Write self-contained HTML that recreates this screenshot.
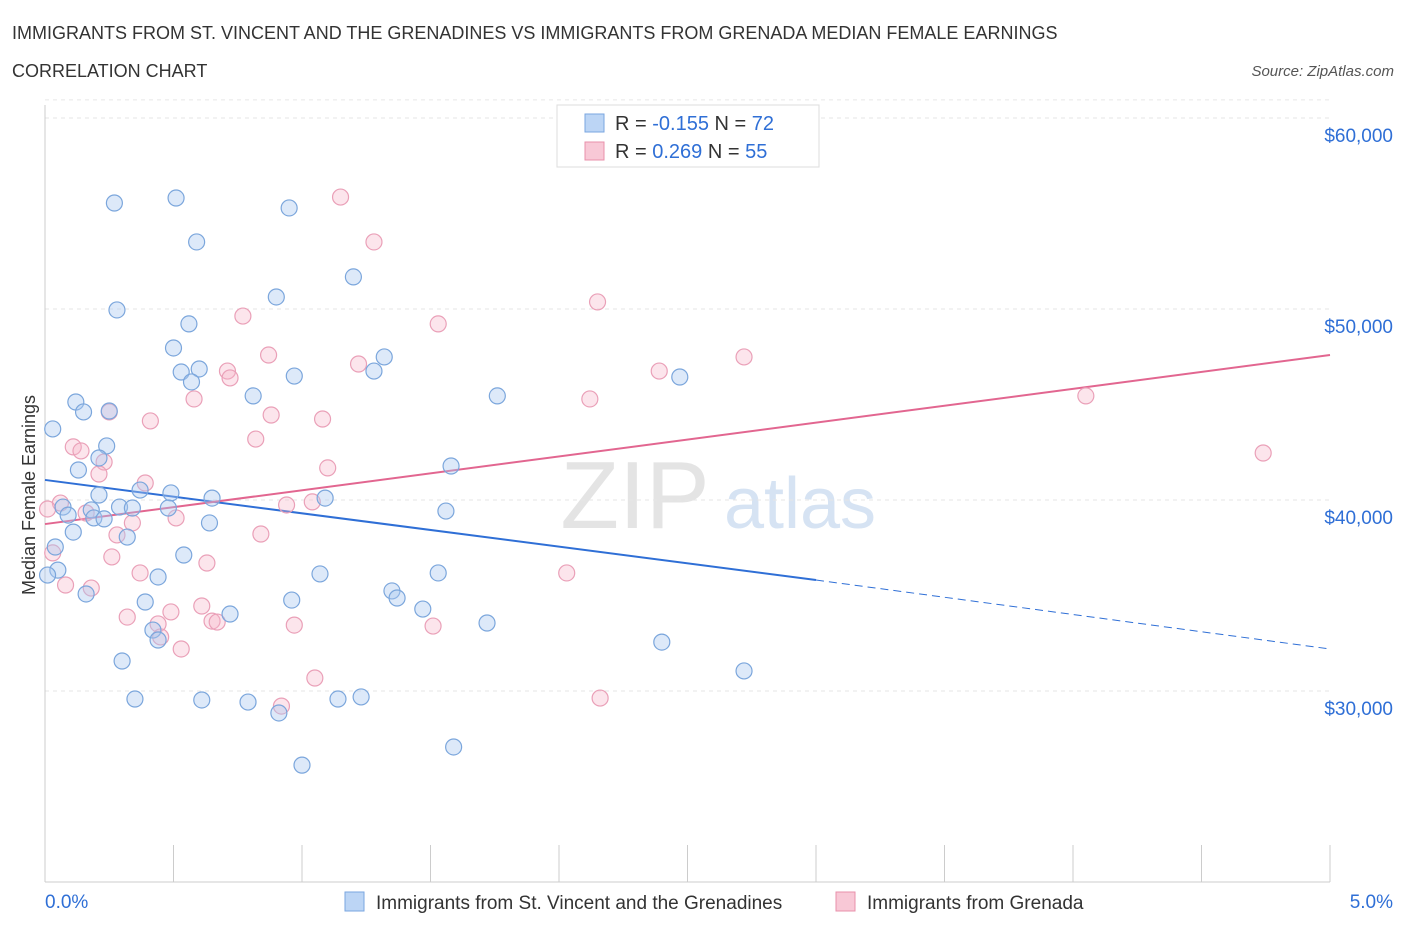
<!DOCTYPE html>
<html><head><meta charset="utf-8"><style>
body{margin:0;background:#fff;font-family:"Liberation Sans",sans-serif;}
svg text{font-family:"Liberation Sans",sans-serif;}
</style></head><body>
<svg id="chart" width="1406" height="930" xmlns="http://www.w3.org/2000/svg">
<text x="12" y="39" font-size="18" fill="#333">IMMIGRANTS FROM ST. VINCENT AND THE GRENADINES VS IMMIGRANTS FROM GRENADA MEDIAN FEMALE EARNINGS</text>
<text x="12" y="77" font-size="18" fill="#333">CORRELATION CHART</text>
<text x="1394" y="76" font-size="15" fill="#555" font-style="italic" text-anchor="end">Source: ZipAtlas.com</text>
<text x="635" y="528" font-size="96" fill="#e4e4e4" font-family="Liberation Serif" text-anchor="middle">ZIP</text>
<text x="800" y="528" font-size="72" fill="#d6e3f3" text-anchor="middle">atlas</text>
<g id="grid"></g>
<g id="axes"></g>
<text x="35" y="495" font-size="18" fill="#333" text-anchor="middle" transform="rotate(-90 35 495)">Median Female Earnings</text>
<g id="lines"></g>
<g id="points"></g>
<g>
<rect x="557" y="105" width="262" height="62" fill="#fff" stroke="#ddd"/>
<rect x="585" y="114" width="19" height="18" fill="#bcd5f5" stroke="#7aa6e0"/>
<text x="615" y="130" font-size="20" fill="#333">R = <tspan fill="#2f6fd6">-0.155</tspan>   N = <tspan fill="#2f6fd6">72</tspan></text>
<rect x="585" y="142" width="19" height="18" fill="#f8c8d6" stroke="#e890ab"/>
<text x="615" y="158" font-size="20" fill="#333">R =  <tspan fill="#2f6fd6">0.269</tspan>   N = <tspan fill="#2f6fd6">55</tspan></text>
</g>
<g>
<rect x="345" y="892" width="19" height="19" fill="#bcd5f5" stroke="#7aa6e0"/>
<text x="376" y="909" font-size="19" fill="#333">Immigrants from St. Vincent and the Grenadines</text>
<rect x="836" y="892" width="19" height="19" fill="#f8c8d6" stroke="#e890ab"/>
<text x="867" y="909" font-size="19" fill="#333">Immigrants from Grenada</text>
</g>
</svg>
<script>
const yTicks=[30000,40000,50000,60000];
const yTickLabels=["$30,000","$40,000","$50,000","$60,000"];
const xTickLabels=["0.0%","5.0%"];
const blueX=[0.27,0.51,0.95,0.59,0.28,1.20,0.90,0.56,0.50,1.32,0.53,0.60,0.57,0.97,1.28,2.47,0.81,1.76,0.12,0.15,0.25,0.03,0.24,0.21,0.13,1.58,0.37,0.49,0.21,0.65,1.09,0.07,0.18,0.29,0.34,0.48,0.09,0.19,0.23,1.56,0.64,0.11,0.32,0.04,0.54,0.05,0.01,1.07,1.53,0.44,0.16,1.35,1.37,0.96,0.39,1.47,0.72,1.72,0.42,0.44,2.40,0.30,2.72,0.35,0.61,0.79,1.14,1.23,0.91,1.59,1.00];
const blueY=[55550,55810,55290,53510,49950,51680,50630,49220,47960,47490,46700,46860,46180,46490,46750,46440,45450,45450,45130,44610,44660,43720,42830,42200,41570,41780,40520,40370,40260,40100,40100,39630,39480,39630,39580,39580,39210,39060,39010,39420,38800,38320,38060,37540,37120,36330,36070,36130,36180,35970,35080,35240,34870,34760,34660,34290,34030,33560,33190,32670,32560,31570,31050,29580,29530,29420,29580,29690,28850,27070,26120];
const pinkX=[1.15,1.28,2.15,0.77,1.53,0.87,2.72,1.22,0.71,0.72,2.39,0.58,2.12,4.05,0.25,0.88,0.41,1.08,0.82,0.11,0.14,0.23,0.21,1.10,4.74,0.39,0.06,0.01,0.16,0.51,0.34,0.94,1.04,0.84,0.28,0.03,0.26,0.63,2.03,0.37,0.08,0.18,0.61,0.32,0.65,0.49,0.67,0.44,0.97,1.51,0.45,0.53,1.05,2.16,0.92];
const pinkY=[55860,53510,50370,49630,49220,47590,47490,47120,46750,46390,46750,45290,45290,45450,44610,44450,44140,44240,43190,42780,42570,41990,41360,41680,42460,40890,39840,39530,39320,39060,38800,39740,39900,38220,38170,37230,37020,36700,36180,36180,35550,35390,34450,33870,33660,34140,33610,33510,33450,33400,32830,32200,30680,29630,29210];
const blueTrend=[41050,35810,32200];
const pinkTrend=[38740,47590];
const NS="http://www.w3.org/2000/svg";
function X(p){return 45+p*257;}
function Y(v){return 500-(v-40000)*0.0191;}
function mk(tag,attrs,parent){const e=document.createElementNS(NS,tag);for(const k in attrs)e.setAttribute(k,attrs[k]);parent.appendChild(e);return e;}
const grid=document.getElementById('grid'),axes=document.getElementById('axes'),lines=document.getElementById('lines'),pts=document.getElementById('points');
let e=mk('line',{x1:45,y1:Y(61000)+1,x2:1330,y2:Y(61000)+1,stroke:'#e6e6e6','stroke-dasharray':'4,4'},grid);
yTicks.forEach((v,i)=>{
 let g=mk('line',{x1:45,y1:Y(v),x2:1330,y2:Y(v),stroke:'#e6e6e6','stroke-dasharray':'4,4'},grid);
 
 
 let t=mk('text',{x:1393,y:Y(v)+24,'font-size':19,fill:'#2f6fd6','text-anchor':'end'},axes);
 t.textContent=yTickLabels[i];
 
 
});
mk('line',{x1:45,y1:105,x2:45,y2:882,stroke:'#ccc'},axes);
mk('line',{x1:45,y1:882,x2:1330,y2:882,stroke:'#ccc'},axes);
for(let i=0;i<=10;i++){let t=mk('line',{x1:X(i*0.5),y1:845,x2:X(i*0.5),y2:882,stroke:'#ccc'},axes);
 
 }
let xl=mk('text',{x:45,y:908,'font-size':19,fill:'#2f6fd6'},axes);xl.textContent=xTickLabels[0];


let xr=mk('text',{x:1393,y:908,'font-size':19,fill:'#2f6fd6','text-anchor':'end'},axes);xr.textContent=xTickLabels[1];


pinkX.forEach((x,i)=>{let c=mk('circle',{cx:X(x),cy:Y(pinkY[i]),r:8,fill:'rgba(246,180,200,0.35)',stroke:'#eaa0b8','stroke-width':1.2},pts);
 
 });
blueX.forEach((x,i)=>{let c=mk('circle',{cx:X(x),cy:Y(blueY[i]),r:8,fill:'rgba(170,200,240,0.4)',stroke:'#7ba6dc','stroke-width':1.2},pts);
 
 });
let b1=mk('line',{x1:X(0),y1:Y(blueTrend[0]),x2:X(3.0),y2:Y(blueTrend[1]),stroke:'#2f6fd6','stroke-width':2},lines);


let b2=mk('line',{x1:X(3.0),y1:Y(blueTrend[1]),x2:X(5),y2:Y(blueTrend[2]),stroke:'#2f6fd6','stroke-width':1,'stroke-dasharray':'8,5'},lines);


let p1=mk('line',{x1:X(0),y1:Y(pinkTrend[0]),x2:X(5),y2:Y(pinkTrend[1]),stroke:'#e26690','stroke-width':2},lines);


</script>
</body></html>
